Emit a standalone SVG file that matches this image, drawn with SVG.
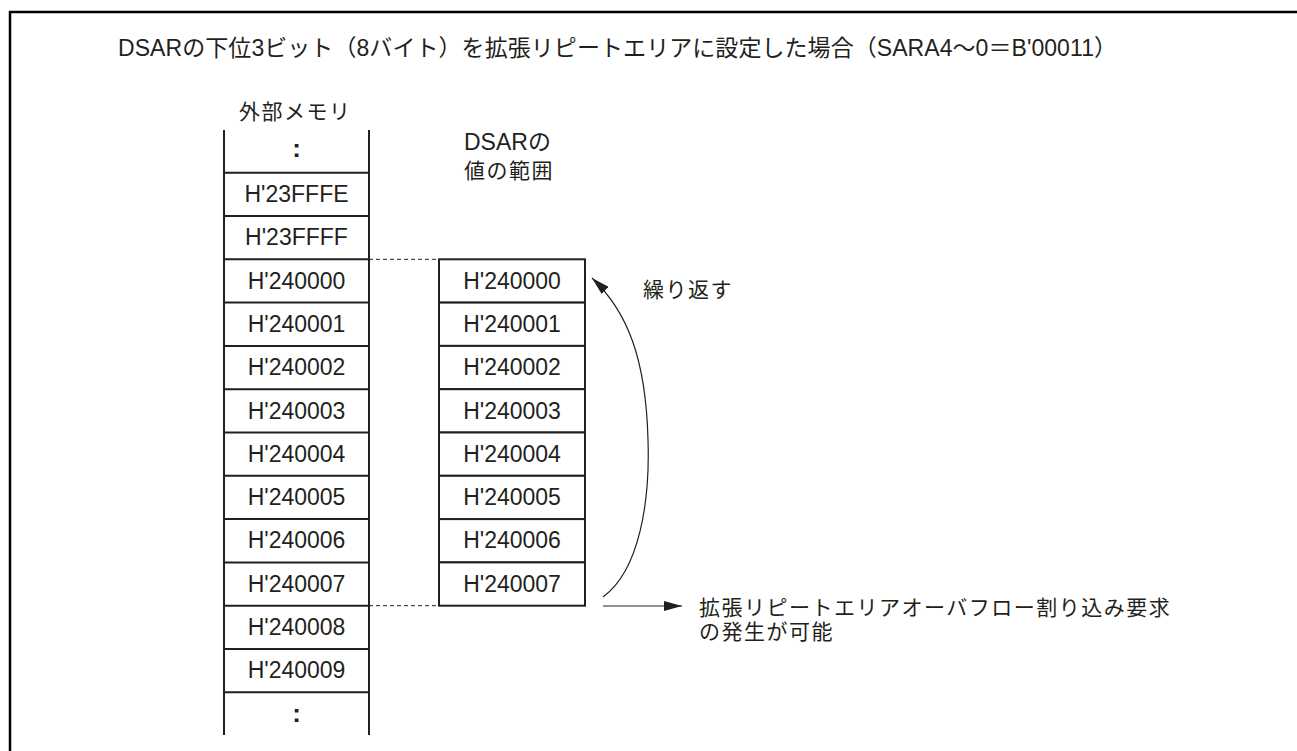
<svg xmlns="http://www.w3.org/2000/svg" width="1297" height="751" viewBox="0 0 1297 751">
<defs>
<style>
.t{font-family:"Liberation Sans","Noto Sans CJK JP",sans-serif;font-size:23px;fill:#231f20}
.c{text-anchor:middle}
.j{font-family:"Liberation Sans","Noto Sans CJK JP",sans-serif;font-size:21px;fill:#231f20;letter-spacing:1.5px}
.cell{fill:#fff;stroke:#231f20;stroke-width:2}
.col{stroke:#231f20;stroke-width:2;fill:none}
.dash{stroke:#231f20;stroke-width:1;stroke-dasharray:4 3;fill:none}
.ln{stroke:#231f20;stroke-width:1.2;fill:none}
.dot{font-family:"Liberation Sans",sans-serif;font-size:26px;font-weight:bold;fill:#231f20;text-anchor:middle}
</style>
<marker id="ah" viewBox="0 0 18 10" refX="18" refY="5" markerWidth="18" markerHeight="10" markerUnits="userSpaceOnUse" orient="auto">
<path d="M0,0 L18,5 L0,10 Z" fill="#231f20"/>
</marker>
</defs>
<rect width="1297" height="751" fill="#fff"/>
<path d="M10,760 V12 H1300" fill="none" stroke="#000" stroke-width="2.5"/>
<text id="title" class="t" x="118" y="56" font-size="22" textLength="999">DSARの下位3ビット（8バイト）を拡張リピートエリアに設定した場合（SARA4～0＝B'00011）</text>

<g id="memory-label"><text class="j" x="239" y="119">外部メモリ</text></g>
<g id="dsar-label"><text class="t" x="464" y="150" font-size="21">DSARの</text><text class="j" x="464" y="178">値の範囲</text></g>

<g id="ext-memory">
<path class="col" d="M224,130 V735 M369,130 V735"/>
<path class="col" d="M224,172.7 H369 M224,216 H369 M224,259.3 H369 M224,302.6 H369 M224,345.9 H369 M224,389.2 H369 M224,432.5 H369 M224,475.8 H369 M224,519.1 H369 M224,562.4 H369 M224,605.7 H369 M224,649 H369 M224,692.3 H369"/>
<g id="m-top"><text class="dot" x="296.5" y="157">:</text></g>
<g id="m-23FFFE"><text class="t c" x="296.5" y="202">H'23FFFE</text></g>
<g id="m-23FFFF"><text class="t c" x="296.5" y="245.3">H'23FFFF</text></g>
<g id="m-240000"><text class="t c" x="296.5" y="288.6">H'240000</text></g>
<g id="m-240001"><text class="t c" x="296.5" y="331.9">H'240001</text></g>
<g id="m-240002"><text class="t c" x="296.5" y="375.2">H'240002</text></g>
<g id="m-240003"><text class="t c" x="296.5" y="418.5">H'240003</text></g>
<g id="m-240004"><text class="t c" x="296.5" y="461.8">H'240004</text></g>
<g id="m-240005"><text class="t c" x="296.5" y="505.1">H'240005</text></g>
<g id="m-240006"><text class="t c" x="296.5" y="548.4">H'240006</text></g>
<g id="m-240007"><text class="t c" x="296.5" y="591.7">H'240007</text></g>
<g id="m-240008"><text class="t c" x="296.5" y="635">H'240008</text></g>
<g id="m-240009"><text class="t c" x="296.5" y="678.3">H'240009</text></g>
<g id="m-bottom"><text class="dot" x="296.5" y="722">:</text></g>
</g>

<g id="dsar-range">
<g id="d-240000"><rect class="cell" x="439" y="259.3" width="146" height="43.3"/><text class="t c" x="512" y="288.6">H'240000</text></g>
<g id="d-240001"><rect class="cell" x="439" y="302.6" width="146" height="43.3"/><text class="t c" x="512" y="331.9">H'240001</text></g>
<g id="d-240002"><rect class="cell" x="439" y="345.9" width="146" height="43.3"/><text class="t c" x="512" y="375.2">H'240002</text></g>
<g id="d-240003"><rect class="cell" x="439" y="389.2" width="146" height="43.3"/><text class="t c" x="512" y="418.5">H'240003</text></g>
<g id="d-240004"><rect class="cell" x="439" y="432.5" width="146" height="43.3"/><text class="t c" x="512" y="461.8">H'240004</text></g>
<g id="d-240005"><rect class="cell" x="439" y="475.8" width="146" height="43.3"/><text class="t c" x="512" y="505.1">H'240005</text></g>
<g id="d-240006"><rect class="cell" x="439" y="519.1" width="146" height="43.3"/><text class="t c" x="512" y="548.4">H'240006</text></g>
<g id="d-240007"><rect class="cell" x="439" y="562.4" width="146" height="43.3"/><text class="t c" x="512" y="591.7">H'240007</text></g>
</g>

<g id="repeat-label"><text class="j" x="643" y="296.5">繰り返す</text></g>
<g id="overflow-label"><text class="j" x="699" y="614.5">拡張リピートエリアオーバフロー割り込み要求</text><text class="j" x="699" y="638.5">の発生が可能</text></g>

<g id="connectors">
<path class="dash" d="M369,259.3 H439"/>
<path class="dash" d="M369,605.7 H439"/>
<path class="ln" d="M603,597 C640,570 650,500 648,440 C646,360 628,312 592,278" marker-end="url(#ah)"/>
<path class="ln" d="M603,606 H682" marker-end="url(#ah)"/>
</g>
</svg>
